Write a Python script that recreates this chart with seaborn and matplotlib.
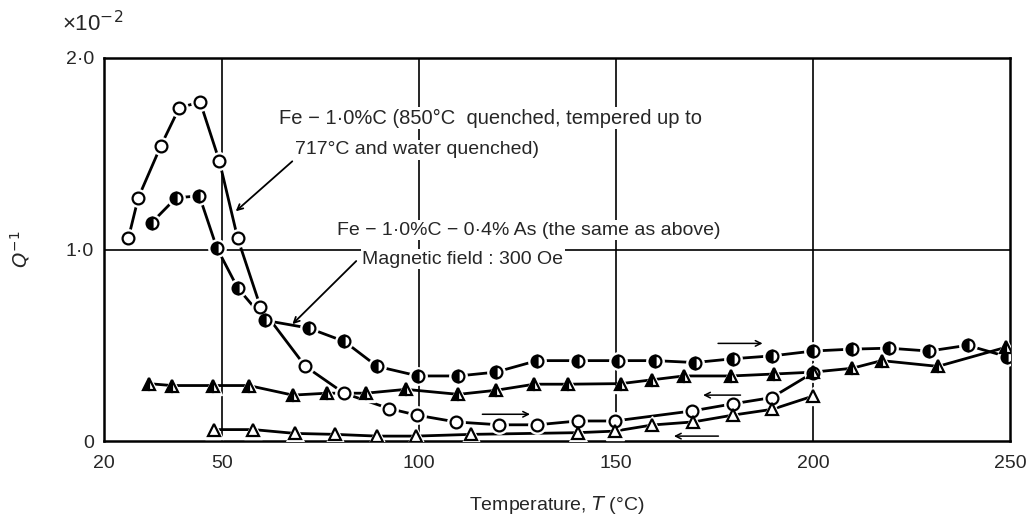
import numpy as np
import pandas as pd
import seaborn as sns
import matplotlib.pyplot as plt

# Fe-1.0%C, heating (open circles)
oc_T = [26.3, 28.8, 34.5, 39.2, 44.5, 49.4, 54.0, 59.8, 71.2, 81.0, 92.4, 99.6,
        109.4, 120.4, 130.0, 140.3, 149.7, 169.2, 179.8, 189.5, 200.0]
oc_Q = [1.06, 1.27, 1.54, 1.74, 1.77, 1.46, 1.06, 0.70, 0.39, 0.25, 0.17, 0.135,
        0.10, 0.085, 0.085, 0.105, 0.105, 0.157, 0.195, 0.227, 0.357]

# Fe-1.0%C, cooling (open triangles)
ot_T = [200.0, 189.7, 179.8, 169.6, 159.2, 149.7, 140.3, 113.2, 99.2, 89.4, 78.8,
        68.6, 58.0, 47.9]
ot_Q = [0.235, 0.166, 0.136, 0.10, 0.084, 0.052, 0.044, 0.035, 0.026, 0.026, 0.035,
        0.04, 0.06, 0.06]

# Fe-1.0%C-0.4%As, heating (half filled circles)
hc_T = [32.2, 38.4, 44.3, 48.7, 54.0, 61.0, 72.0, 81.1, 89.4, 99.8, 110.0, 119.5,
        130.0, 140.3, 150.5, 160.0, 170.0, 179.8, 189.7, 200.0, 209.8, 219.3, 229.4,
        239.2, 249.3]
hc_Q = [1.14, 1.27, 1.28, 1.01, 0.80, 0.63, 0.59, 0.52, 0.39, 0.34, 0.34, 0.36,
        0.42, 0.42, 0.42, 0.42, 0.41, 0.43, 0.445, 0.47, 0.48, 0.485, 0.47, 0.50, 0.44]

# Fe-1.0%C-0.4%As, cooling (half filled triangles)
ht_T = [249.0, 231.7, 217.4, 209.9, 200.0, 190.0, 179.3, 167.2, 159.2, 151.3, 137.8,
        129.3, 119.5, 110.0, 96.7, 86.5, 76.7, 68.0, 56.8, 47.7, 37.3, 31.4]
ht_Q = [0.49, 0.39, 0.42, 0.38, 0.36, 0.35, 0.34, 0.34, 0.32, 0.30, 0.297, 0.297,
        0.265, 0.244, 0.27, 0.25, 0.25, 0.24, 0.29, 0.29, 0.29, 0.30]

x_ticks = [20, 50, 100, 150, 200, 250]
y_ticks = [0, 1, 2]
y_labels = ["0", "1·0", "2·0"]

sns.set_style("white")
plt.rcParams['font.family'] = ['Liberation Sans', 'DejaVu Sans']

fig = plt.figure(figsize=(10.36, 5.22), dpi=100)
ax = fig.add_axes([0.100, 0.155, 0.875, 0.734])

series = [
    (oc_T, oc_Q, 'o', 'none'),
    (ot_T, ot_Q, '^', 'none'),
    (hc_T, hc_Q, 'o', 'left'),
    (ht_T, ht_Q, '^', 'left'),
]

for T, Q, mk, fs in series:
    df = pd.DataFrame({'T': T, 'Q': Q})
    sns.lineplot(data=df, x='T', y='Q', sort=False, color='black', lw=2.0,
                 ax=ax, zorder=3)
    # white halo so the line breaks around each marker
    ax.plot(df['T'], df['Q'], ls='none', marker=mk, ms=12.5, mfc='white',
            mec='white', zorder=4)
    if fs == 'none':
        ax.plot(df['T'], df['Q'], ls='none', marker=mk, ms=8.5, mfc='white',
                mec='black', mew=1.6, zorder=5)
    else:
        ax.plot(df['T'], df['Q'], ls='none', marker=mk, ms=8.5, mfc='black',
                mfcalt='white', fillstyle=fs, mec='black', mew=1.6, zorder=5)

# sparse grid
for xv in [50, 100, 150, 200]:
    ax.axvline(xv, color='black', lw=1.2, zorder=1)
ax.axhline(1.0, color='black', lw=1.2, zorder=1)

# direction arrows
arrows = [((175.2, 0.51), (187.9, 0.51)),
          ((182.3, 0.24), (171.4, 0.24)),
          ((115.4, 0.14), (128.9, 0.14)),
          ((176.7, 0.026), (164.0, 0.026))]
for (x0, y0), (x1, y1) in arrows:
    ax.annotate('', xy=(x1, y1), xytext=(x0, y0),
                arrowprops=dict(arrowstyle='->', lw=1.1, color='black'), zorder=6)

wb = dict(facecolor='white', edgecolor='none', pad=1)
ax.text(64.5, 1.686, "Fe − 1·0%C (850°C  quenched, tempered up to", fontsize=14.5,
        va='center', ha='left', bbox=wb, zorder=7)
ax.text(68.6, 1.52, "717°C and water quenched)", fontsize=14,
        va='center', ha='left', bbox=wb, zorder=7)
ax.text(79.3, 1.10, "Fe − 1·0%C − 0·4% As (the same as above)", fontsize=14,
        va='center', ha='left', bbox=wb, zorder=7)
ax.text(85.6, 0.95, "Magnetic field : 300 Oe", fontsize=14,
        va='center', ha='left', bbox=wb, zorder=7)

ax.annotate('', xy=(53.0, 1.19), xytext=(68.4, 1.47),
            arrowprops=dict(arrowstyle='->', lw=1.3, color='black'), zorder=6)
ax.annotate('', xy=(67.4, 0.60), xytext=(84.6, 0.95),
            arrowprops=dict(arrowstyle='->', lw=1.3, color='black'), zorder=6)

ax.set_xlim(20, 250)
ax.set_ylim(0, 2.0)
ax.set_xticks(x_ticks)
ax.set_xticklabels([str(v) for v in x_ticks], fontsize=14)
ax.set_yticks(y_ticks)
ax.set_yticklabels(y_labels, fontsize=14)
ax.tick_params(axis='x', length=0, pad=10)
ax.tick_params(axis='y', length=0, pad=7)
for sp in ax.spines.values():
    sp.set_color('black')
    sp.set_linewidth(1.8)

ax.set_xlabel("Temperature, $T$ (°C)", fontsize=14, labelpad=16)
ax.set_ylabel("$Q^{-1}$", fontsize=14, labelpad=24)
fig.text(0.060, 0.955, "×10$^{-2}$", fontsize=16, ha='left', va='center')

fig.savefig("out.png", dpi=100)
